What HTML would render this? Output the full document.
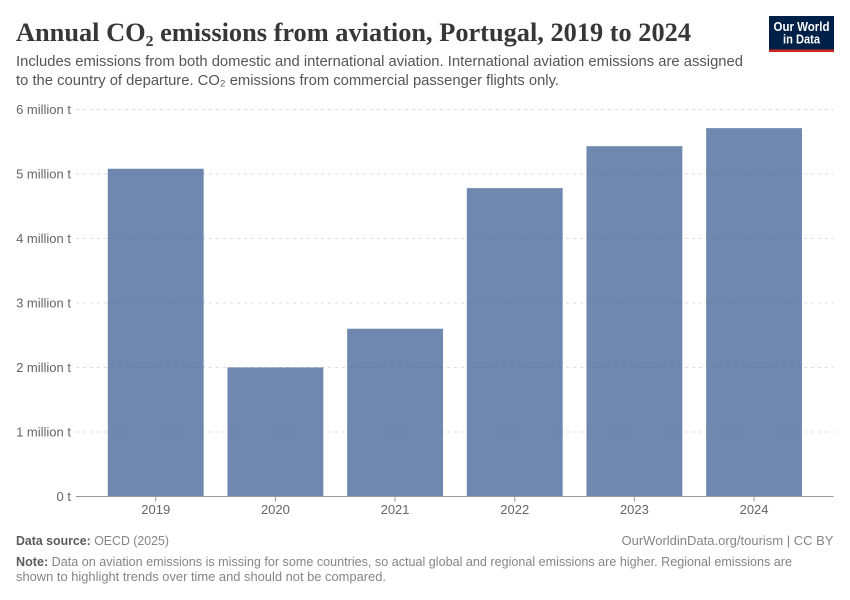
<!DOCTYPE html>
<html lang="en">
<head>
<meta charset="utf-8">
<title>Annual CO2 emissions from aviation, Portugal, 2019 to 2024</title>
<style>
html,body{margin:0;padding:0;background:#fff;width:850px;height:600px;overflow:hidden}
svg{display:block}
text{font-family:"Liberation Sans",sans-serif}
.title{font-family:"Liberation Serif",serif;font-weight:700;font-size:26px;fill:#373737}
.sub{font-size:15px;fill:#555}
.tick{font-size:13px;fill:#666}
.foot{font-size:13px;fill:#858585}
.footb{font-weight:700;fill:#5b5b5b}
</style>
</head>
<body>
<svg id="chart" xmlns="http://www.w3.org/2000/svg" width="850" height="600" viewBox="0 0 850 600">
  <text class="title" x="16" y="41" textLength="675" lengthAdjust="spacingAndGlyphs">Annual CO₂ emissions from aviation, Portugal, 2019 to 2024</text>
  <text class="sub" x="16" y="66" textLength="727" lengthAdjust="spacingAndGlyphs">Includes emissions from both domestic and international aviation. International aviation emissions are assigned</text>
  <text class="sub" x="16" y="85" textLength="543" lengthAdjust="spacingAndGlyphs">to the country of departure. CO₂ emissions from commercial passenger flights only.</text>

  <g>
    <rect x="769" y="16" width="65" height="36" fill="#002147"/>
    <rect x="769" y="49.5" width="65" height="2.5" fill="#ce261e"/>
    <text x="801.5" y="31" text-anchor="middle" font-size="12.5" font-weight="700" fill="#fff" textLength="56" lengthAdjust="spacingAndGlyphs">Our World</text>
    <text x="801.5" y="43.5" text-anchor="middle" font-size="12.5" font-weight="700" fill="#fff" textLength="37" lengthAdjust="spacingAndGlyphs">in Data</text>
  </g>

  <g id="grid"></g>
  <g id="bars"></g>
  <g id="xaxis"></g>

  <text class="foot" x="16" y="545" textLength="153" lengthAdjust="spacingAndGlyphs"><tspan class="footb">Data source:</tspan> OECD (2025)</text>
  <text class="foot" x="833.5" y="545" text-anchor="end" textLength="212" lengthAdjust="spacingAndGlyphs">OurWorldinData.org/tourism | CC BY</text>
  <text class="foot" x="16" y="566" textLength="776" lengthAdjust="spacingAndGlyphs"><tspan class="footb">Note:</tspan> Data on aviation emissions is missing for some countries, so actual global and regional emissions are higher. Regional emissions are</text>
  <text class="foot" x="16" y="581" textLength="370" lengthAdjust="spacingAndGlyphs">shown to highlight trends over time and should not be compared.</text>
</svg>
<script>
const categories = ["2019", "2020", "2021", "2022", "2023", "2024"];
const emissions = [5.08, 2.0, 2.6, 4.78, 5.43, 5.71];
const yTickValues = [0, 1, 2, 3, 4, 5, 6];
const yTickLabels = ["0 t", "1 million t", "2 million t", "3 million t", "4 million t", "5 million t", "6 million t"];

const NS = "http://www.w3.org/2000/svg";
const plot = { left: 76, right: 833.5, bandLeft: 95.9, bandRight: 813.9, top: 109.5, bottom: 496.5, yMax: 6 };

function yScale(v) {
  return plot.bottom - (v / plot.yMax) * (plot.bottom - plot.top);
}
function bandStep() {
  return (plot.bandRight - plot.bandLeft) / categories.length;
}
function xCenter(i) {
  return plot.bandLeft + bandStep() * (i + 0.5);
}
function make(tag, attrs, parent, text) {
  const el = document.createElementNS(NS, tag);
  for (const k in attrs) el.setAttribute(k, attrs[k]);
  if (text !== undefined) el.textContent = text;
  parent.appendChild(el);
  return el;
}

const gridG = document.getElementById("grid");
const barsG = document.getElementById("bars");
const xG = document.getElementById("xaxis");

yTickValues.forEach(function (v, i) {
  const y = yScale(v);
  if (v !== 0) {
    const line = make("line", { x1: plot.left, x2: plot.right, y1: y, y2: y, stroke: "#dddddd", "stroke-dasharray": "3,4" }, gridG);
    
    
  }
  const label = make("text", { class: "tick", x: 71, y: y + 4.5, "text-anchor": "end" }, gridG, yTickLabels[i]);
  
  
});

emissions.forEach(function (v, i) {
  const w = bandStep() * 0.8;
  const top = yScale(v);
  const bar = make("rect", {
    x: xCenter(i) - w / 2, y: top, width: w, height: plot.bottom - top,
    fill: "#4c6a9c", "fill-opacity": 0.8, stroke: "#4c6a9c", "stroke-opacity": 0.2, "stroke-width": 0.5
  }, barsG);
  
  
});

const axisLine = make("line", { x1: plot.left, x2: plot.right, y1: plot.bottom, y2: plot.bottom, stroke: "#999999" }, xG);



categories.forEach(function (c, i) {
  const x = xCenter(i);
  const tick = make("line", { x1: x, x2: x, y1: plot.bottom, y2: plot.bottom + 5, stroke: "#999999" }, xG);
  
  
  const label = make("text", { class: "tick", x: x, y: 514, "text-anchor": "middle" }, xG, c);
  
  
});
</script>
</body>
</html>
